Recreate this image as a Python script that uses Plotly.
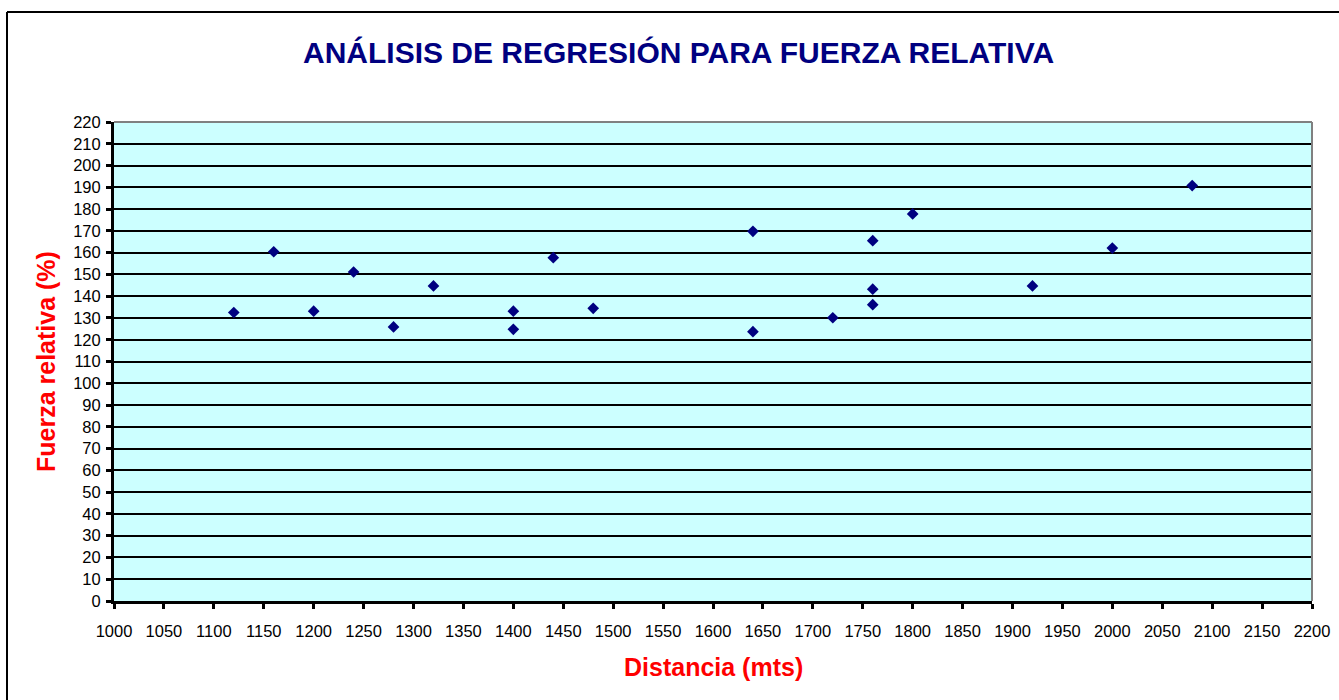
import plotly.graph_objects as go

# Data
distancia = [1120, 1160, 1200, 1240, 1280, 1320, 1400, 1400, 1440, 1480,
             1640, 1640, 1720, 1760, 1760, 1760, 1800, 1920, 2000, 2080]
fuerza = [132.5, 160.4, 133.1, 151.1, 125.9, 144.7, 133.1, 124.8, 157.7, 134.4,
          169.8, 123.7, 130.1, 165.5, 143.2, 136.1, 177.8, 144.7, 162.1, 190.8]

x_ticks = list(range(1000, 2201, 50))
y_ticks = list(range(0, 221, 10))

title_text = "ANÁLISIS DE REGRESIÓN PARA FUERZA RELATIVA"
x_title = "Distancia (mts)"
y_title = "Fuerza relativa (%)"

W, H = 1339, 700
ML, MR, MT, MB = 114, 27, 122, 99
PW, PH = W - ML - MR, H - MT - MB


def px_x(p):
    return (p - ML) / PW


def px_y(p):
    return (H - MB - p) / PH


FONT = "Arial, 'Liberation Sans', sans-serif"

fig = go.Figure()
fig.add_trace(go.Scatter(
    x=distancia, y=fuerza, mode="markers",
    marker=dict(symbol="diamond", size=9, color="#000080",
                line=dict(width=0)),
    showlegend=False, hoverinfo="x+y",
))

fig.update_layout(
    width=W, height=H,
    autosize=False,
    margin=dict(l=ML, r=MR, t=MT, b=MB, pad=0, autoexpand=False),
    paper_bgcolor="white",
    plot_bgcolor="#CCFFFF",
    font=dict(family=FONT, color="black", size=16),
    showlegend=False,
    xaxis=dict(
        range=[1000, 2200], tickvals=x_ticks, ticktext=[str(v) for v in x_ticks],
        showgrid=False, zeroline=False, automargin=False,
        showline=True, linecolor="black", linewidth=3,
        ticks="outside", ticklen=5, tickwidth=3, tickcolor="black",
        tickfont=dict(family=FONT, size=16.5, color="black"),
        ticklabelstandoff=8,
        mirror=False,
    ),
    yaxis=dict(
        range=[0, 220], tickvals=y_ticks, ticktext=[str(v) for v in y_ticks],
        showgrid=True, gridcolor="black", gridwidth=1.5,
        zeroline=False, automargin=False,
        showline=True, linecolor="black", linewidth=3,
        ticks="outside", ticklen=5, tickwidth=3, tickcolor="black",
        tickfont=dict(family=FONT, size=16.5, color="black"),
        ticklabelstandoff=2,
    ),
)

shapes = [
    # gray top and right border of plot area
    dict(type="line", xref="paper", yref="paper", x0=0, x1=1, y0=1, y1=1,
         line=dict(color="#808080", width=2)),
    dict(type="line", xref="paper", yref="paper", x0=1, x1=1, y0=0, y1=1,
         line=dict(color="#808080", width=2)),
    # chart frame
    dict(type="line", xref="paper", yref="paper", x0=px_x(7), x1=px_x(1345),
         y0=px_y(12), y1=px_y(12), line=dict(color="black", width=2)),
    dict(type="line", xref="paper", yref="paper", x0=px_x(7), x1=px_x(7),
         y0=px_y(12), y1=px_y(710), line=dict(color="black", width=2)),
]
fig.update_layout(shapes=shapes)

annotations = [
    dict(text=f"<b>{title_text}</b>", xref="paper", yref="paper",
         x=px_x(678), y=px_y(52), xanchor="center", yanchor="middle",
         showarrow=False, font=dict(family=FONT, size=30, color="#000080")),
    dict(text=f"<b>{x_title}</b>", xref="paper", yref="paper",
         x=px_x(713), y=px_y(667), xanchor="center", yanchor="middle",
         showarrow=False, font=dict(family=FONT, size=25, color="#FF0000")),
    dict(text=f"<b>{y_title}</b>", xref="paper", yref="paper",
         x=px_x(46), y=px_y(362), xanchor="center", yanchor="middle",
         textangle=-90,
         showarrow=False, font=dict(family=FONT, size=25, color="#FF0000")),
]
fig.update_layout(annotations=annotations)

fig.write_html("out.html",
               config={"displayModeBar": False, "responsive": False},
               post_script="document.body.style.margin='0px';"
                           "document.body.style.overflow='hidden';")
